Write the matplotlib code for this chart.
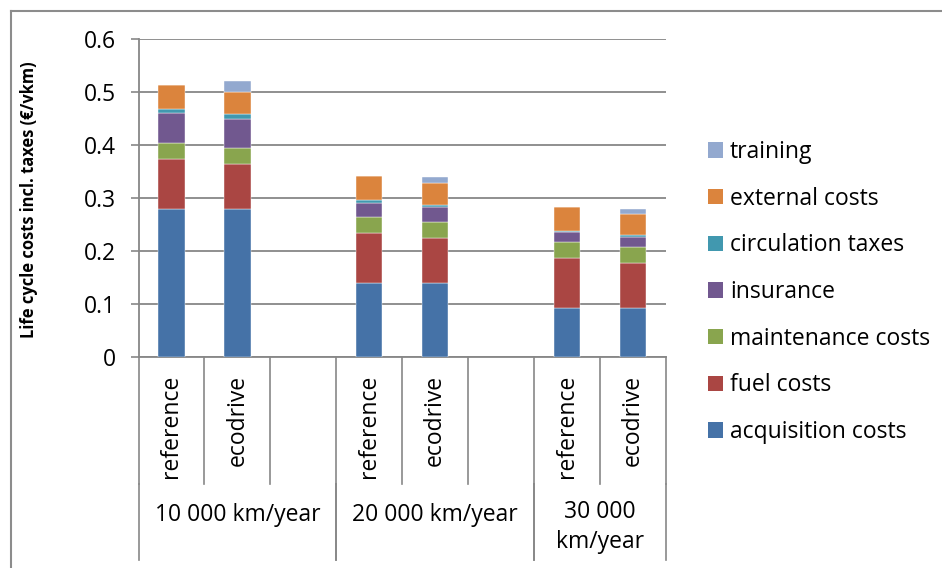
import matplotlib
matplotlib.use("Agg")
import matplotlib.pyplot as plt
from matplotlib.lines import Line2D
from matplotlib.patches import Patch

plt.rcParams["font.family"] = ["Open Sans", "DejaVu Sans"]

# category slots on the x axis (blank slots separate the groups)
categories = ["reference", "ecodrive", "", "reference", "ecodrive", "", "reference", "ecodrive"]
groups = ["10 000 km/year", "20 000 km/year", "30 000\nkm/year"]
group_slots = [(0, 3), (3, 6), (6, 8)]

# values per bar (only the non-blank slots), in €/vkm
acquisition = [0.280, 0.280, 0.140, 0.140, 0.093, 0.093]
fuel = [0.094, 0.085, 0.095, 0.085, 0.094, 0.084]
maintenance = [0.030, 0.030, 0.030, 0.030, 0.030, 0.031]
insurance = [0.056, 0.055, 0.027, 0.028, 0.019, 0.019]
circulation = [0.009, 0.009, 0.005, 0.004, 0.003, 0.003]
external = [0.045, 0.041, 0.045, 0.041, 0.044, 0.041]
training = [0.0, 0.022, 0.0, 0.012, 0.0, 0.008]

series = [
    ("acquisition costs", acquisition, "#4572A7"),
    ("fuel costs", fuel, "#AA4643"),
    ("maintenance costs", maintenance, "#89A54E"),
    ("insurance", insurance, "#71588F"),
    ("circulation taxes", circulation, "#4198AF"),
    ("external costs", external, "#DB843D"),
    ("training", training, "#93A9CF"),
]

FS = 16.5
W, H = 942, 568
fig = plt.figure(figsize=(W / 100, H / 100), dpi=100)

# plot area in pixels
left, right, top, bottom = 138.5, 666, 39.3, 357.3
ax = fig.add_axes([left / W, (H - bottom) / H, (right - left) / W, (bottom - top) / H])

def py2ax(py):
    return (bottom - py) / (bottom - top)

grey = "#878787"
positions = [i for i, c in enumerate(categories) if c]
base = [0.0] * len(positions)
handles = []
for name, vals, color in series:
    ax.bar(positions, vals, width=0.4, bottom=base, color=color,
           edgecolor="white", linewidth=0.3, zorder=3)
    base = [b + v for b, v in zip(base, vals)]
    handles.append(Patch(facecolor=color, label=name))

ax.set_xlim(-0.5, len(categories) - 0.5)
ax.set_ylim(0, 0.6)
ax.set_yticks([0, 0.1, 0.2, 0.3, 0.4, 0.5, 0.6])
ax.set_yticklabels(["0", "0.1", "0.2", "0.3", "0.4", "0.5", "0.6"])
ax.yaxis.grid(True, color=grey, linewidth=1.3, zorder=0)
ax.set_axisbelow(True)
ax.tick_params(axis="y", length=6, width=1.2, color=grey, pad=10.5, labelsize=FS)
ax.set_xticks([])
for s in ["top", "right"]:
    ax.spines[s].set_visible(False)
for s in ["left", "bottom"]:
    ax.spines[s].set_color(grey)
    ax.spines[s].set_linewidth(1.3)

ax.set_ylabel("Life cycle costs incl. taxes (€/vkm)", fontsize=11.9,
              fontweight="bold")
ax.yaxis.set_label_coords((38 - left) / (right - left), 0.495)

# multi-level category axis
tr = ax.get_xaxis_transform()
y_lvl1 = py2ax(484)
y_lvl2 = py2ax(560)
for k in range(len(categories) + 1):
    x = k - 0.5
    ax.plot([x, x], [0, y_lvl1], color=grey, linewidth=1.2,
            transform=tr, clip_on=False)
for a, b in group_slots:
    for x in (a - 0.5, b - 0.5):
        ax.plot([x, x], [y_lvl1, y_lvl2], color=grey, linewidth=1.2,
                transform=tr, clip_on=False)

for i, c in enumerate(categories):
    if c:
        ax.text(i, py2ax(375), c, rotation=90, ha="center", va="top",
                fontsize=FS, transform=tr)

for (a, b), g in zip(group_slots, groups):
    ax.text((a + b - 1) / 2, py2ax(527 if "\n" in g else 515), g,
            ha="center", va="center", fontsize=FS, linespacing=1.35,
            transform=tr)

fig.legend(handles=handles[::-1], loc="center left",
           bbox_to_anchor=(708 / W, (H - 292) / H), frameon=False,
           fontsize=FS, handlelength=0.65, handleheight=0.65,
           handletextpad=0.3, labelspacing=0.99, borderpad=0, borderaxespad=0)

# outer chart border
fig.add_artist(Line2D([11 / W, 11 / W], [0, (H - 11) / H], color="#8c8c8c",
                      linewidth=1.5, transform=fig.transFigure))
fig.add_artist(Line2D([11 / W, 1], [(H - 11) / H, (H - 11) / H], color="#8c8c8c",
                      linewidth=1.5, transform=fig.transFigure))

fig.savefig("out.png", dpi=100)
plt.close(fig)
